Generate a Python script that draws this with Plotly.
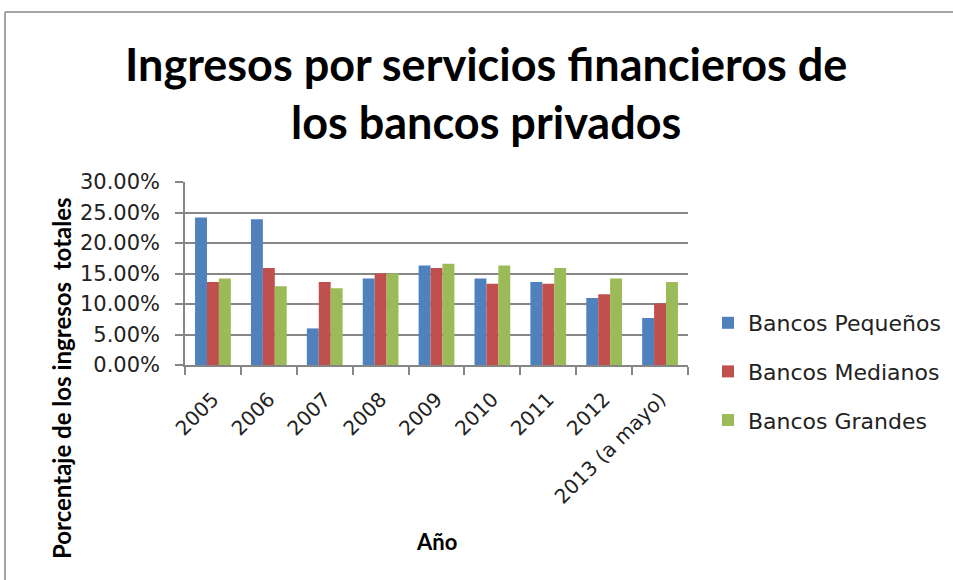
import plotly.graph_objects as go

categories = ["2005", "2006", "2007", "2008", "2009", "2010", "2011", "2012", "2013 (a mayo)"]
pequenos = [0.242, 0.239, 0.060, 0.142, 0.163, 0.142, 0.136, 0.110, 0.077]
medianos = [0.136, 0.159, 0.136, 0.150, 0.159, 0.133, 0.133, 0.116, 0.101]
grandes = [0.142, 0.129, 0.126, 0.150, 0.166, 0.163, 0.159, 0.142, 0.136]
series_names = ["Bancos Pequeños", "Bancos Medianos", "Bancos Grandes"]
y_ticks = [0, 0.05, 0.10, 0.15, 0.20, 0.25, 0.30]

colors = ["#4F81BD", "#C0504D", "#9BBB59"]
TITLE_FONT = "Lato, Carlito, Calibri, sans-serif"
TICK_FONT = "DejaVu Sans, Verdana, sans-serif"

W, H = 953, 580
L, R, T, B = 185, 688, 182, 365


def px(x):
    return (x - L) / (R - L)


def py(y):
    return (B - y) / (B - T)


fig = go.Figure()
for i, (name, vals) in enumerate(zip(series_names, [pequenos, medianos, grandes])):
    fig.add_trace(go.Bar(
        x=categories, y=vals, name=name,
        marker=dict(color=colors[i], line=dict(width=0)),
        legendgroup=f"g{i}",
    ))

fig.update_layout(
    width=W, height=H,
    margin=dict(l=L, r=W - R, t=T, b=H - B, pad=0, autoexpand=False),
    paper_bgcolor="white", plot_bgcolor="white",
    barmode="group", bargap=0.36, bargroupgap=0,
    font=dict(family=TICK_FONT, size=18, color="#222222"),
    showlegend=True,
    legend=dict(
        xref="container", yref="container",
        x=708 / W, y=1 - 302 / H, xanchor="left", yanchor="top",
        font=dict(family=TICK_FONT, size=22, color="#222222"),
        tracegroupgap=17, itemwidth=30, bgcolor="rgba(0,0,0,0)",
    ),
    xaxis=dict(
        type="category", tickson="boundaries", ticks="outside", ticklen=8,
        tickcolor="#868686", tickwidth=1.5,
        showline=True, linecolor="#868686", linewidth=1.5,
        tickangle=-45, tickfont=dict(family=TICK_FONT, size=20, color="#222222"),
        ticklabelstandoff=13, automargin=False,
        showgrid=False, fixedrange=True,
    ),
    yaxis=dict(
        range=[0, 0.30], tickvals=y_ticks, tickformat=".2%",
        ticks="outside", ticklen=8, tickcolor="#868686", tickwidth=1.5,
        showline=True, linecolor="#868686", linewidth=1.5,
        showgrid=True, gridcolor="#868686", gridwidth=1.5,
        zeroline=False, ticklabelstandoff=11, automargin=False,
        tickfont=dict(family=TICK_FONT, size=21, color="#222222"),
        fixedrange=True,
    ),
    annotations=[
        dict(text="<b>Ingresos por servicios financieros de</b>", xref="paper", yref="paper",
             x=px(486), y=py(64), xanchor="center", yanchor="middle", showarrow=False,
             font=dict(family=TITLE_FONT, size=45, color="#000000")),
        dict(text="<b>los bancos privados</b>", xref="paper", yref="paper",
             x=px(486), y=py(122), xanchor="center", yanchor="middle", showarrow=False,
             font=dict(family=TITLE_FONT, size=45, color="#000000")),
        dict(text="<b>Porcentaje de los ingresos  totales</b>", xref="paper", yref="paper",
             x=px(61), y=py(378), xanchor="center", yanchor="middle", showarrow=False,
             textangle=-90, font=dict(family=TITLE_FONT, size=24, color="#000000")),
        dict(text="<b>Año</b>", xref="paper", yref="paper",
             x=px(436), y=py(541), xanchor="center", yanchor="middle", showarrow=False,
             font=dict(family=TITLE_FONT, size=22, color="#000000")),
    ],
    shapes=[
        dict(type="line", xref="paper", yref="paper", x0=px(5), x1=px(5), y0=py(12), y1=py(600),
             line=dict(color="#A6A6A6", width=2)),
        dict(type="line", xref="paper", yref="paper", x0=px(5), x1=px(980), y0=py(12), y1=py(12),
             line=dict(color="#A6A6A6", width=2)),
    ],
)

fig.write_html(
    "out.html",
    config={"displayModeBar": False},
    post_script="document.body.style.margin='0';document.body.style.overflow='hidden';",
)
